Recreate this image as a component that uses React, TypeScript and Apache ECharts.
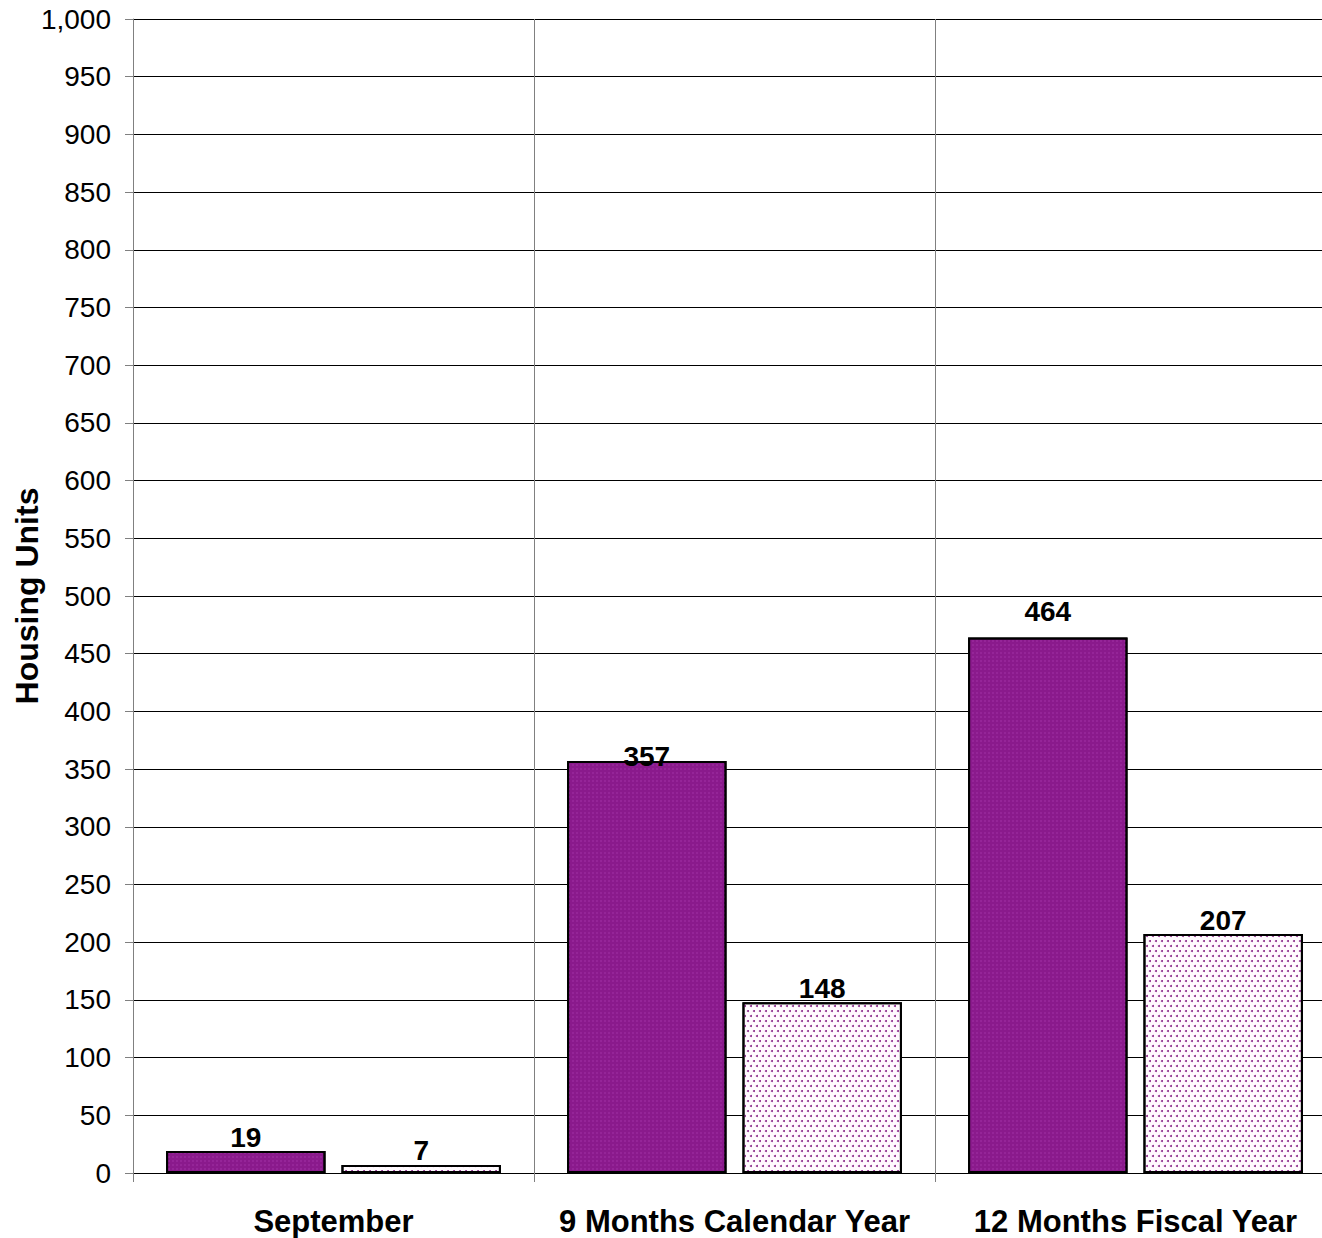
import React, { useEffect, useRef } from "react";
import * as echarts from "echarts";

const categories = ["September", "9 Months Calendar Year", "12 Months Fiscal Year"];
const seriesA = [19, 357, 464];
const seriesB = [7, 148, 207];
const yTicks = { min: 0, max: 1000, interval: 50 };
const labelOffsetA = [[0, 0], [0, 9], [0, -12]];
const labelOffsetB = [[0, 0], [0, 0], [0, 0]];

export default function App() {
  const ref = useRef<HTMLDivElement>(null);
  useEffect(() => {
    const chart = echarts.init(ref.current!, null, { renderer: "svg" });
    const font = "'Liberation Sans', Arial, sans-serif";
    const label = {
      show: true,
      position: "top",
      distance: 0,
      fontFamily: font,
      fontWeight: "bold",
      fontSize: 28,
      color: "#000",
    };
    chart.setOption({
      animation: false,
      backgroundColor: "#fff",
      grid: { left: 133, right: -14, top: 19, bottom: 65, outerBoundsMode: "none", containLabel: false },
      xAxis: {
        type: "category",
        data: categories,
        axisLine: { lineStyle: { color: "#000", width: 1 } },
        axisTick: { show: true, interval: 0, length: 9, lineStyle: { color: "#808080" } },
        splitLine: { show: true, interval: 0, lineStyle: { color: "#808080", width: 1 } },
        axisLabel: {
          interval: 0,
          fontFamily: font,
          fontWeight: "bold",
          fontSize: 31,
          color: "#000",
          margin: 33,
        },
      },
      yAxis: {
        type: "value",
        min: yTicks.min,
        max: yTicks.max,
        interval: yTicks.interval,
        name: "Housing Units",
        nameLocation: "middle",
        nameGap: 90,
        nameMoveOverlap: false,
        nameRotate: 90,
        nameTextStyle: { fontFamily: font, fontWeight: "bold", fontSize: 32, color: "#000" },
        axisLine: { show: true, lineStyle: { color: "#808080", width: 1 } },
        axisTick: { show: true, length: 8, lineStyle: { color: "#808080" } },
        splitLine: { show: true, lineStyle: { color: "#000", width: 1 } },
        axisLabel: {
          fontFamily: font,
          fontSize: 28,
          color: "#000",
          margin: 22,
          formatter: (v: number) => v.toLocaleString("en-US"),
        },
      },
      series: [
        {
          type: "bar",
          data: seriesA.map((v, i) => ({ value: v, label: { offset: labelOffsetA[i] } })),
          barCategoryGap: "16.5%",
          barGap: "10%",
          itemStyle: {
            color: "#8a1a8c",
            borderColor: "#000",
            borderWidth: 2,
            decal: {
              symbol: "rect",
              symbolSize: 0.5,
              color: "rgba(200,90,210,0.7)",
              dashArrayX: [2, 2],
              dashArrayY: [2, 2],
              rotation: 0,
            },
          },
          label,
        },
        {
          type: "bar",
          data: seriesB.map((v, i) => ({ value: v, label: { offset: labelOffsetB[i] } })),
          itemStyle: {
            color: "#fffafe",
            borderColor: "#000",
            borderWidth: 2,
            decal: {
              symbol: "circle",
              symbolSize: 1,
              color: "#8b2a8b",
              dashArrayX: [[1.5, 3.5], [0, 2.5, 1.5, 1]],
              dashArrayY: [1.5, 2.5],
              rotation: 0,
            },
          },
          label,
        },
      ],
    });
    return () => chart.dispose();
  }, []);
  return <div ref={ref} style={{ width: 1322, height: 1238, position: "absolute", left: 0, top: 0 }} />;
}
